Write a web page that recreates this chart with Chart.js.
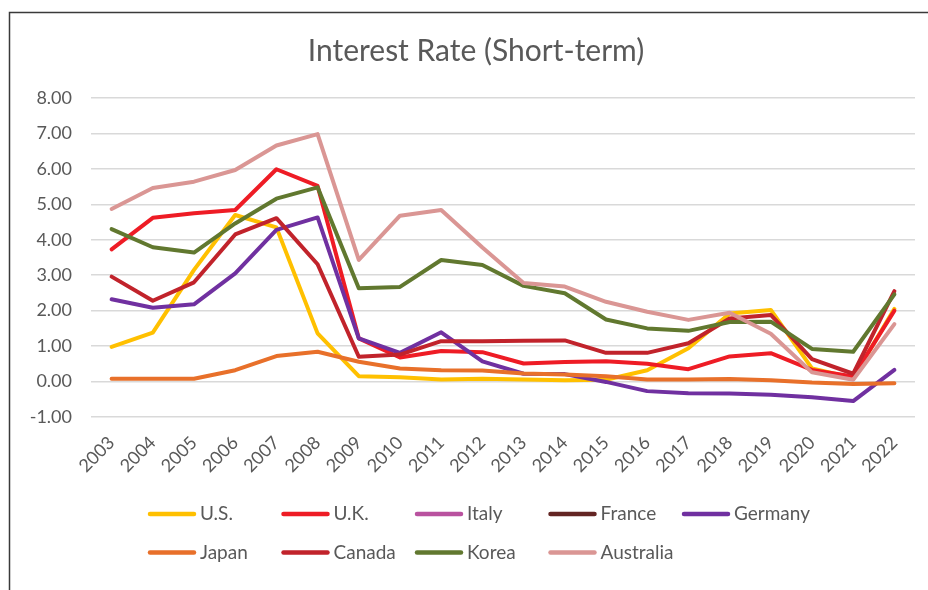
<!DOCTYPE html>
<html><head><meta charset="utf-8">
<script src="https://cdn.jsdelivr.net/npm/chart.js@4.4.1/dist/chart.umd.min.js"></script>
<style>html,body{margin:0;padding:0;background:#fff;}#wrap{width:928px;height:590px;position:relative;}</style>
</head><body><div id="wrap"><canvas id="c" width="928" height="590"></canvas></div>
<script>
const years = ['2003','2004','2005','2006','2007','2008','2009','2010','2011','2012','2013','2014','2015','2016','2017','2018','2019','2020','2021','2022'];
const seriesNames = ['U.S.','U.K.','Italy','France','Germany','Japan','Canada','Korea','Australia'];
const seriesColors = ['#FFC000','#EE1C25','#B9529F','#632523','#7030A0','#E8702A','#C1232B','#61782F','#DA9694'];
const us        = [0.98,1.38,3.15,4.70,4.35,1.36,0.15,0.12,0.06,0.08,0.06,0.04,0.05,0.32,0.94,1.92,2.02,0.37,0.10,2.05];
const uk        = [3.73,4.62,4.75,4.84,5.99,5.52,1.22,0.68,0.86,0.83,0.51,0.55,0.57,0.50,0.35,0.71,0.80,0.33,0.14,2.00];
const italy     = [null,null,null,null,null,null,null,null,null,null,null,null,null,null,null,null,null,null,null,null];
const france    = [null,null,null,null,null,null,null,null,null,null,null,null,null,null,null,null,null,null,null,null];
const germany   = [2.32,2.08,2.18,3.05,4.28,4.63,1.22,0.81,1.39,0.57,0.22,0.21,-0.01,-0.27,-0.33,-0.34,-0.37,-0.44,-0.55,0.33];
const japan     = [0.08,0.08,0.08,0.32,0.72,0.84,0.56,0.37,0.32,0.31,0.23,0.20,0.15,0.06,0.06,0.07,0.04,-0.03,-0.07,-0.05];
const canada    = [2.96,2.28,2.80,4.15,4.61,3.31,0.70,0.76,1.14,1.14,1.15,1.16,0.81,0.81,1.08,1.78,1.88,0.63,0.22,2.55];
const korea     = [4.30,3.79,3.64,4.46,5.16,5.48,2.63,2.67,3.43,3.29,2.70,2.49,1.75,1.50,1.43,1.68,1.69,0.92,0.84,2.46];
const australia = [4.87,5.46,5.64,5.97,6.66,6.98,3.43,4.68,4.84,3.78,2.78,2.68,2.25,1.97,1.74,1.94,1.35,0.26,0.05,1.62];
const seriesValues = [us,uk,italy,france,germany,japan,canada,korea,australia];
const yMin = -1, yMax = 8, yStep = 1;

const FONT = 'Lato';
const TEXT = '#595959';

const framePlugin = {
  id: 'frame',
  afterLayout(chart) {
    // centre the title on the outer chart frame rather than on the padded area
    if (chart.titleBlock) {
      chart.titleBlock.left = 24;
      chart.titleBlock.right = chart.width;
    }
  },
  beforeDraw(chart) {
    const ctx = chart.ctx;
    ctx.save();
    ctx.fillStyle = '#fff';
    ctx.fillRect(0, 0, chart.width, chart.height);
    ctx.strokeStyle = '#3a3a3a';
    ctx.lineWidth = 1.5;
    ctx.beginPath();
    ctx.moveTo(9.5, chart.height + 2);
    ctx.lineTo(9.5, 12.5);
    ctx.lineTo(chart.width + 2, 12.5);
    ctx.stroke();
    ctx.restore();
  }
};

const gridLegend = {
  id: 'gridLegend',
  afterDraw(chart) {
    const ctx = chart.ctx;
    ctx.save();
    ctx.font = '19px ' + FONT;
    ctx.textBaseline = 'middle';
    ctx.textAlign = 'left';
    chart.data.datasets.forEach((d, i) => {
      const col = i % 5, row = Math.floor(i / 5);
      const x = 148 + col * 133.5, y = 514 + row * 38.5;
      ctx.strokeStyle = d.borderColor;
      ctx.lineWidth = 4.5;
      ctx.lineCap = 'round';
      ctx.beginPath();
      ctx.moveTo(x + 2, y);
      ctx.lineTo(x + 46, y);
      ctx.stroke();
      ctx.fillStyle = TEXT;
      ctx.fillText(d.label, x + 52, y);
    });
    ctx.restore();
  }
};

const datasets = seriesNames.map((n, i) => ({
  label: n,
  data: seriesValues[i],
  borderColor: seriesColors[i],
  backgroundColor: seriesColors[i],
  borderWidth: 4,
  pointRadius: 0,
  pointHoverRadius: 0,
  tension: 0,
  fill: false,
  borderJoinStyle: 'round',
  borderCapStyle: 'round',
  order: seriesNames.length - i
}));

new Chart(document.getElementById('c'), {
  type: 'line',
  data: { labels: years, datasets },
  plugins: [framePlugin, gridLegend],
  options: {
    responsive: false,
    animation: false,
    devicePixelRatio: 1,
    layout: { padding: { left: 0, right: 13, top: 0, bottom: 100 } },
    plugins: {
      legend: { display: false },
      tooltip: { enabled: false },
      title: {
        display: true,
        text: 'Interest Rate (Short-term)',
        color: TEXT,
        font: { family: FONT, size: 30, weight: 'normal', lineHeight: 1.2 },
        padding: { top: 33, bottom: 29 }
      }
    },
    scales: {
      x: {
        offset: true,
        grid: { display: false, drawTicks: false },
        border: { display: false },
        ticks: {
          color: TEXT,
          font: { family: FONT, size: 18 },
          maxRotation: 45, minRotation: 45,
          autoSkip: false,
          padding: 15
        },
        afterFit(scale) { scale.height = 73; }
      },
      y: {
        min: yMin, max: yMax,
        grid: { color: '#D9D9D9', lineWidth: 1.5, drawTicks: false },
        border: { display: false },
        ticks: {
          stepSize: yStep,
          color: TEXT,
          font: { family: FONT, size: 18 },
          padding: 19,
          callback: v => Number(v).toFixed(2)
        },
        afterFit(scale) { scale.width = 91; }
      }
    }
  }
});
</script>
</body></html>
